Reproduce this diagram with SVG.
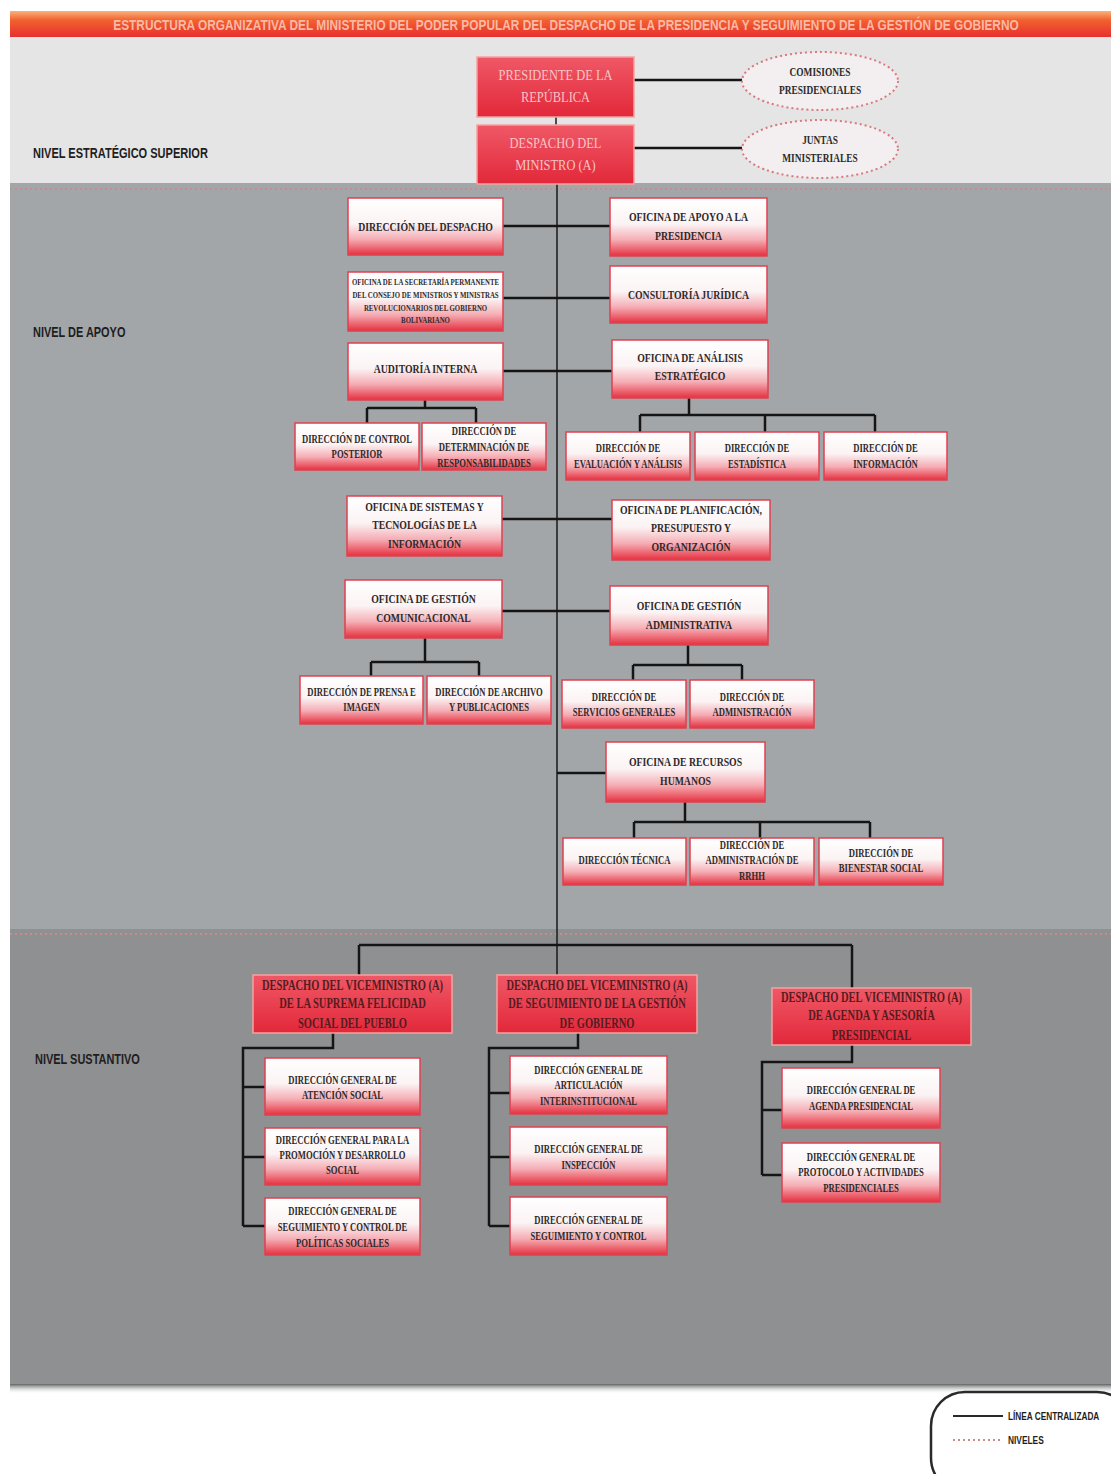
<svg xmlns="http://www.w3.org/2000/svg" width="1111" height="1474" viewBox="0 0 1111 1474">
<defs>
<linearGradient id="gBox" x1="0" y1="0" x2="0" y2="1">
<stop offset="0" stop-color="#ffffff"/>
<stop offset="0.45" stop-color="#fbf3f4"/>
<stop offset="0.72" stop-color="#f5aeb5"/>
<stop offset="1" stop-color="#e5303f"/>
</linearGradient>
<linearGradient id="gRed" x1="0" y1="0" x2="0" y2="1">
<stop offset="0" stop-color="#f05866"/>
<stop offset="1" stop-color="#e2283a"/>
</linearGradient>
<linearGradient id="gTitle" x1="0" y1="0" x2="0" y2="1">
<stop offset="0" stop-color="#f9b27a"/>
<stop offset="0.35" stop-color="#f2612f"/>
<stop offset="1" stop-color="#e7302f"/>
</linearGradient>
<linearGradient id="gShadow" x1="0" y1="0" x2="0" y2="1">
<stop offset="0" stop-color="#5f6163"/>
<stop offset="1" stop-color="#ffffff" stop-opacity="0"/>
</linearGradient>
<style>
.box{fill:url(#gBox);stroke:#e04050;stroke-width:1.5}
.rbox{fill:url(#gRed);stroke:#f3a2a0;stroke-width:1.5}
.ell{fill:#f3eff0;stroke:#d87a80;stroke-width:2;stroke-dasharray:2 3}
.t{font-family:"Liberation Serif","Times New Roman",serif;font-weight:bold;fill:#2e2a2a;text-anchor:middle}
.m{font-size:13px}
.s{font-size:11.5px}
.v{font-size:14px;fill:#561c20}
.p{font-size:15px;fill:#f7c4c6;font-weight:normal}
.e{font-size:12.5px;fill:#2a2a2a}
.xs{font-size:9px}
.lvl{font-family:"Liberation Sans",Arial,sans-serif;font-weight:bold;fill:#1e1e1e}
.c{fill:none;stroke:#151515;stroke-width:2.5}
.trunk{fill:none;stroke:#1a1a1a;stroke-width:1.5}
.dots{fill:none;stroke:#c98c8e;stroke-width:2;stroke-dasharray:2 3}
</style>
</defs>

<!-- background bands -->
<rect x="0" y="0" width="1111" height="1474" fill="#ffffff"/>
<rect x="10" y="37" width="1101" height="146" fill="#e5e5e5"/>
<rect x="10" y="183" width="1101" height="746" fill="#a3a6a8"/>
<rect x="10" y="929" width="1101" height="455" fill="#8e9092"/>
<rect x="10" y="1384" width="1101" height="10" fill="url(#gShadow)"/>
<line class="dots" x1="10" y1="189" x2="1111" y2="189"/>
<line class="dots" x1="10" y1="934" x2="1111" y2="934"/>

<!-- title -->
<g id="title">
<rect x="10" y="11" width="1101" height="26" fill="url(#gTitle)"/>
<text class="lvl" font-size="14.5" style="fill:#f9b9a4" text-anchor="middle" transform="translate(566,0) scale(0.82,1)"><tspan x="0" y="30">ESTRUCTURA ORGANIZATIVA DEL MINISTERIO DEL PODER POPULAR DEL DESPACHO DE LA PRESIDENCIA Y SEGUIMIENTO DE LA GESTIÓN DE GOBIERNO</tspan></text>
</g>

<!-- level labels -->
<g id="levels">
<text class="lvl" font-size="15" transform="translate(33,0) scale(0.736,1)"><tspan x="0" y="158">NIVEL ESTRATÉGICO SUPERIOR</tspan></text>
<text class="lvl" font-size="15" transform="translate(33,0) scale(0.73,1)"><tspan x="0" y="337">NIVEL DE APOYO</tspan></text>
<text class="lvl" font-size="15" transform="translate(35,0) scale(0.731,1)"><tspan x="0" y="1064">NIVEL SUSTANTIVO</tspan></text>
</g>

<!-- connectors -->
<g id="connectors">
<path class="trunk" d="M556 117V125M557 184V975"/>
<path class="c" d="M634 80H742M634 148H742"/>
<path class="c" d="M503 226H610M503 298H610M503 371H612"/>
<path class="c" d="M425 400V408M367 408H476M367 408V423M476 408V423"/>
<path class="c" d="M689 398V415M640 415H875M640 415V432M765 415V432M875 415V432"/>
<path class="c" d="M502 519H612M502 611H610"/>
<path class="c" d="M425 638V662M371 662H479M371 662V676M479 662V676"/>
<path class="c" d="M688 645V665M633 665H742M633 665V680M742 665V680"/>
<path class="c" d="M557 773H606"/>
<path class="c" d="M685 802V822M634 822H870M634 822V838M760 822V838M870 822V838"/>
<path class="c" d="M359 945H852M359 945V975M852 945V988"/>
<path class="c" d="M333 1033V1048H243V1226M243 1087H265M243 1157H265M243 1226H265"/>
<path class="c" d="M578 1033V1048H489V1226M489 1093H510M489 1157H510M489 1226H510"/>
<path class="c" d="M852 1045V1062H762V1175M762 1110H782M762 1175H782"/>
</g>

<!-- top level -->
<g id="presidente">
<rect class="rbox" x="477" y="57" width="157" height="60"/>
<text class="t p" transform="translate(555.5,0) scale(0.83,1)"><tspan x="0" y="80">PRESIDENTE DE LA</tspan><tspan x="0" y="102">REPÚBLICA</tspan></text>
</g>
<g id="despacho-ministro">
<rect class="rbox" x="477" y="125" width="157" height="59"/>
<text class="t p" transform="translate(555.5,0) scale(0.83,1)"><tspan x="0" y="148">DESPACHO DEL</tspan><tspan x="0" y="170">MINISTRO (A)</tspan></text>
</g>
<g id="comisiones">
<ellipse class="ell" cx="820" cy="81" rx="78" ry="29"/>
<text class="t e" transform="translate(820,0) scale(0.75,1)"><tspan x="0" y="76">COMISIONES</tspan><tspan x="0" y="94">PRESIDENCIALES</tspan></text>
</g>
<g id="juntas">
<ellipse class="ell" cx="820" cy="149" rx="78" ry="29"/>
<text class="t e" transform="translate(820,0) scale(0.75,1)"><tspan x="0" y="144">JUNTAS</tspan><tspan x="0" y="162">MINISTERIALES</tspan></text>
</g>

<!-- apoyo left -->
<g id="direccion-despacho">
<rect class="box" x="348" y="198" width="155" height="57"/>
<text class="t m" transform="translate(425.5,0) scale(0.75,1)"><tspan x="0" y="231">DIRECCIÓN DEL DESPACHO</tspan></text>
</g>
<g id="secretaria-permanente">
<rect class="box" x="348" y="272" width="155" height="59"/>
<text class="t xs" transform="translate(425.5,0) scale(0.76,1)"><tspan x="0" y="285">OFICINA DE LA SECRETARÍA PERMANENTE</tspan><tspan x="0" y="298">DEL CONSEJO DE MINISTROS Y MINISTRAS</tspan><tspan x="0" y="311">REVOLUCIONARIOS DEL GOBIERNO</tspan><tspan x="0" y="323">BOLIVARIANO</tspan></text>
</g>
<g id="auditoria">
<rect class="box" x="348" y="343" width="155" height="57"/>
<text class="t m" transform="translate(425.5,0) scale(0.75,1)"><tspan x="0" y="373">AUDITORÍA INTERNA</tspan></text>
</g>
<g id="control-posterior">
<rect class="box" x="295" y="423" width="124" height="47"/>
<text class="t s" transform="translate(357,0) scale(0.75,1)"><tspan x="0" y="443">DIRECCIÓN DE CONTROL</tspan><tspan x="0" y="458">POSTERIOR</tspan></text>
</g>
<g id="determinacion">
<rect class="box" x="422" y="423" width="124" height="47"/>
<text class="t s" transform="translate(484,0) scale(0.75,1)"><tspan x="0" y="435">DIRECCIÓN DE</tspan><tspan x="0" y="451">DETERMINACIÓN DE</tspan><tspan x="0" y="467">RESPONSABILIDADES</tspan></text>
</g>

<!-- apoyo right -->
<g id="apoyo-presidencia">
<rect class="box" x="610" y="198" width="157" height="58"/>
<text class="t m" transform="translate(688.5,0) scale(0.75,1)"><tspan x="0" y="221">OFICINA DE APOYO A LA</tspan><tspan x="0" y="240">PRESIDENCIA</tspan></text>
</g>
<g id="consultoria">
<rect class="box" x="610" y="266" width="157" height="57"/>
<text class="t m" transform="translate(688.5,0) scale(0.75,1)"><tspan x="0" y="299">CONSULTORÍA JURÍDICA</tspan></text>
</g>
<g id="analisis">
<rect class="box" x="612" y="340" width="156" height="58"/>
<text class="t m" transform="translate(690,0) scale(0.75,1)"><tspan x="0" y="362">OFICINA DE ANÁLISIS</tspan><tspan x="0" y="380">ESTRATÉGICO</tspan></text>
</g>
<g id="evaluacion">
<rect class="box" x="566" y="432" width="124" height="48"/>
<text class="t s" transform="translate(628,0) scale(0.75,1)"><tspan x="0" y="452">DIRECCIÓN DE</tspan><tspan x="0" y="468">EVALUACIÓN Y ANÁLISIS</tspan></text>
</g>
<g id="estadistica">
<rect class="box" x="695" y="432" width="124" height="48"/>
<text class="t s" transform="translate(757,0) scale(0.75,1)"><tspan x="0" y="452">DIRECCIÓN DE</tspan><tspan x="0" y="468">ESTADÍSTICA</tspan></text>
</g>
<g id="informacion">
<rect class="box" x="824" y="432" width="123" height="48"/>
<text class="t s" transform="translate(885.5,0) scale(0.75,1)"><tspan x="0" y="452">DIRECCIÓN DE</tspan><tspan x="0" y="468">INFORMACIÓN</tspan></text>
</g>

<g id="sistemas">
<rect class="box" x="347" y="496" width="155" height="60"/>
<text class="t m" transform="translate(424.5,0) scale(0.75,1)"><tspan x="0" y="511">OFICINA DE SISTEMAS Y</tspan><tspan x="0" y="529">TECNOLOGÍAS DE LA</tspan><tspan x="0" y="548">INFORMACIÓN</tspan></text>
</g>
<g id="planificacion">
<rect class="box" x="612" y="500" width="158" height="60"/>
<text class="t m" transform="translate(691,0) scale(0.75,1)"><tspan x="0" y="514">OFICINA DE PLANIFICACIÓN,</tspan><tspan x="0" y="532">PRESUPUESTO Y</tspan><tspan x="0" y="551">ORGANIZACIÓN</tspan></text>
</g>
<g id="comunicacional">
<rect class="box" x="345" y="580" width="157" height="58"/>
<text class="t m" transform="translate(423.5,0) scale(0.75,1)"><tspan x="0" y="603">OFICINA DE GESTIÓN</tspan><tspan x="0" y="622">COMUNICACIONAL</tspan></text>
</g>
<g id="administrativa">
<rect class="box" x="610" y="586" width="158" height="59"/>
<text class="t m" transform="translate(689,0) scale(0.75,1)"><tspan x="0" y="610">OFICINA DE GESTIÓN</tspan><tspan x="0" y="629">ADMINISTRATIVA</tspan></text>
</g>
<g id="prensa">
<rect class="box" x="300" y="676" width="123" height="48"/>
<text class="t s" transform="translate(361.5,0) scale(0.75,1)"><tspan x="0" y="696">DIRECCIÓN DE PRENSA E</tspan><tspan x="0" y="711">IMAGEN</tspan></text>
</g>
<g id="archivo">
<rect class="box" x="427" y="676" width="124" height="48"/>
<text class="t s" transform="translate(489,0) scale(0.75,1)"><tspan x="0" y="696">DIRECCIÓN DE ARCHIVO</tspan><tspan x="0" y="711">Y PUBLICACIONES</tspan></text>
</g>
<g id="servicios-generales">
<rect class="box" x="562" y="680" width="124" height="48"/>
<text class="t s" transform="translate(624,0) scale(0.75,1)"><tspan x="0" y="701">DIRECCIÓN DE</tspan><tspan x="0" y="716">SERVICIOS GENERALES</tspan></text>
</g>
<g id="administracion">
<rect class="box" x="690" y="680" width="124" height="48"/>
<text class="t s" transform="translate(752,0) scale(0.75,1)"><tspan x="0" y="701">DIRECCIÓN DE</tspan><tspan x="0" y="716">ADMINISTRACIÓN</tspan></text>
</g>
<g id="recursos-humanos">
<rect class="box" x="606" y="742" width="159" height="60"/>
<text class="t m" transform="translate(685.5,0) scale(0.75,1)"><tspan x="0" y="766">OFICINA DE RECURSOS</tspan><tspan x="0" y="785">HUMANOS</tspan></text>
</g>
<g id="tecnica">
<rect class="box" x="563" y="838" width="123" height="47"/>
<text class="t s" transform="translate(624.5,0) scale(0.75,1)"><tspan x="0" y="864">DIRECCIÓN TÉCNICA</tspan></text>
</g>
<g id="admin-rrhh">
<rect class="box" x="690" y="838" width="124" height="47"/>
<text class="t s" transform="translate(752,0) scale(0.75,1)"><tspan x="0" y="849">DIRECCIÓN DE</tspan><tspan x="0" y="864">ADMINISTRACIÓN DE</tspan><tspan x="0" y="880">RRHH</tspan></text>
</g>
<g id="bienestar">
<rect class="box" x="819" y="838" width="124" height="47"/>
<text class="t s" transform="translate(881,0) scale(0.75,1)"><tspan x="0" y="857">DIRECCIÓN DE</tspan><tspan x="0" y="872">BIENESTAR SOCIAL</tspan></text>
</g>

<!-- sustantivo -->
<g id="vice-felicidad">
<rect class="rbox" x="253" y="975" width="199" height="58"/>
<text class="t v" transform="translate(352.5,0) scale(0.75,1)"><tspan x="0" y="990">DESPACHO DEL VICEMINISTRO (A)</tspan><tspan x="0" y="1008">DE LA SUPREMA FELICIDAD</tspan><tspan x="0" y="1028">SOCIAL DEL PUEBLO</tspan></text>
</g>
<g id="vice-seguimiento">
<rect class="rbox" x="497" y="975" width="200" height="58"/>
<text class="t v" transform="translate(597,0) scale(0.75,1)"><tspan x="0" y="990">DESPACHO DEL VICEMINISTRO (A)</tspan><tspan x="0" y="1008">DE SEGUIMIENTO DE LA GESTIÓN</tspan><tspan x="0" y="1028">DE GOBIERNO</tspan></text>
</g>
<g id="vice-agenda">
<rect class="rbox" x="772" y="988" width="199" height="57"/>
<text class="t v" transform="translate(871.5,0) scale(0.75,1)"><tspan x="0" y="1002">DESPACHO DEL VICEMINISTRO (A)</tspan><tspan x="0" y="1020">DE AGENDA Y ASESORÍA</tspan><tspan x="0" y="1040">PRESIDENCIAL</tspan></text>
</g>

<g id="dg-atencion">
<rect class="box" x="265" y="1058" width="155" height="57"/>
<text class="t s" transform="translate(342.5,0) scale(0.75,1)"><tspan x="0" y="1084">DIRECCIÓN GENERAL DE</tspan><tspan x="0" y="1099">ATENCIÓN SOCIAL</tspan></text>
</g>
<g id="dg-promocion">
<rect class="box" x="265" y="1128" width="155" height="57"/>
<text class="t s" transform="translate(342.5,0) scale(0.75,1)"><tspan x="0" y="1144">DIRECCIÓN GENERAL PARA LA</tspan><tspan x="0" y="1159">PROMOCIÓN Y DESARROLLO</tspan><tspan x="0" y="1174">SOCIAL</tspan></text>
</g>
<g id="dg-politicas">
<rect class="box" x="265" y="1198" width="155" height="57"/>
<text class="t s" transform="translate(342.5,0) scale(0.75,1)"><tspan x="0" y="1215">DIRECCIÓN GENERAL DE</tspan><tspan x="0" y="1231">SEGUIMIENTO Y CONTROL DE</tspan><tspan x="0" y="1247">POLÍTICAS SOCIALES</tspan></text>
</g>
<g id="dg-articulacion">
<rect class="box" x="510" y="1056" width="157" height="58"/>
<text class="t s" transform="translate(588.5,0) scale(0.75,1)"><tspan x="0" y="1074">DIRECCIÓN GENERAL DE</tspan><tspan x="0" y="1089">ARTICULACIÓN</tspan><tspan x="0" y="1105">INTERINSTITUCIONAL</tspan></text>
</g>
<g id="dg-inspeccion">
<rect class="box" x="510" y="1127" width="157" height="58"/>
<text class="t s" transform="translate(588.5,0) scale(0.75,1)"><tspan x="0" y="1153">DIRECCIÓN GENERAL DE</tspan><tspan x="0" y="1169">INSPECCIÓN</tspan></text>
</g>
<g id="dg-seguimiento">
<rect class="box" x="510" y="1197" width="157" height="58"/>
<text class="t s" transform="translate(588.5,0) scale(0.75,1)"><tspan x="0" y="1224">DIRECCIÓN GENERAL DE</tspan><tspan x="0" y="1240">SEGUIMIENTO Y CONTROL</tspan></text>
</g>
<g id="dg-agenda">
<rect class="box" x="782" y="1068" width="158" height="60"/>
<text class="t s" transform="translate(861,0) scale(0.75,1)"><tspan x="0" y="1094">DIRECCIÓN GENERAL DE</tspan><tspan x="0" y="1110">AGENDA PRESIDENCIAL</tspan></text>
</g>
<g id="dg-protocolo">
<rect class="box" x="782" y="1143" width="158" height="59"/>
<text class="t s" transform="translate(861,0) scale(0.75,1)"><tspan x="0" y="1161">DIRECCIÓN GENERAL DE</tspan><tspan x="0" y="1176">PROTOCOLO Y ACTIVIDADES</tspan><tspan x="0" y="1192">PRESIDENCIALES</tspan></text>
</g>

<!-- legend -->
<g id="legend">
<rect x="931" y="1392" width="200" height="100" rx="34" fill="#ffffff" stroke="#2a2a2a" stroke-width="2.5"/>
<line x1="953" y1="1416" x2="1003" y2="1416" stroke="#2a2a2a" stroke-width="2"/>
<text class="lvl" font-size="11" transform="translate(1008,0) scale(0.75,1)"><tspan x="0" y="1420">LÍNEA CENTRALIZADA</tspan></text>
<line class="dots" x1="953" y1="1440" x2="1003" y2="1440"/>
<text class="lvl" font-size="11" transform="translate(1008,0) scale(0.76,1)"><tspan x="0" y="1444">NIVELES</tspan></text>
</g>
</svg>
